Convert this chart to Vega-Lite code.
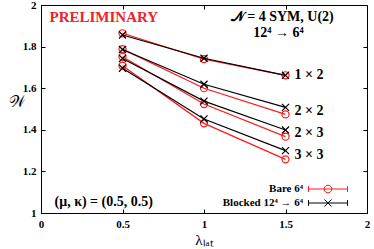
{
  "$schema": "https://vega.github.io/schema/vega-lite/v6.json",
  "width": 326,
  "height": 208,
  "autosize": "none",
  "padding": {"left": 41, "top": 5, "right": 7, "bottom": 36},
  "config": {
    "view": {"stroke": "black", "strokeWidth": 1},
    "font": "Liberation Serif",
    "axis": {"grid": false, "labelFont": "Liberation Serif", "titleFont": "Liberation Serif", "labelColor": "black", "titleColor": "black", "tickColor": "black", "domainColor": "black"},
    "legend": {"title": null, "orient": "none", "symbolSize": 1521, "symbolStrokeWidth": 1, "symbolOpacity": 1, "symbolFillColor": "transparent", "labelAlign": "right", "labelOffset": -45, "labelFont": "Liberation Serif", "labelFontWeight": "bold", "labelFontSize": 11, "labelColor": "black", "padding": 0}
  },
  "datasets": {
    "w": [
      {"series": "Bare 6⁴", "blk": "1x2", "lam": 0.5, "W": 1.864},
      {"series": "Bare 6⁴", "blk": "1x2", "lam": 1.0, "W": 1.740},
      {"series": "Bare 6⁴", "blk": "1x2", "lam": 1.5, "W": 1.662},
      {"series": "Bare 6⁴", "blk": "2x2", "lam": 0.5, "W": 1.788},
      {"series": "Bare 6⁴", "blk": "2x2", "lam": 1.0, "W": 1.600},
      {"series": "Bare 6⁴", "blk": "2x2", "lam": 1.5, "W": 1.474},
      {"series": "Bare 6⁴", "blk": "2x3", "lam": 0.5, "W": 1.751},
      {"series": "Bare 6⁴", "blk": "2x3", "lam": 1.0, "W": 1.524},
      {"series": "Bare 6⁴", "blk": "2x3", "lam": 1.5, "W": 1.367},
      {"series": "Bare 6⁴", "blk": "3x3", "lam": 0.5, "W": 1.708},
      {"series": "Bare 6⁴", "blk": "3x3", "lam": 1.0, "W": 1.431},
      {"series": "Bare 6⁴", "blk": "3x3", "lam": 1.5, "W": 1.258},
      {"series": "Blocked 12⁴ → 6⁴", "blk": "1x2", "lam": 0.5, "W": 1.856},
      {"series": "Blocked 12⁴ → 6⁴", "blk": "1x2", "lam": 1.0, "W": 1.744},
      {"series": "Blocked 12⁴ → 6⁴", "blk": "1x2", "lam": 1.5, "W": 1.662},
      {"series": "Blocked 12⁴ → 6⁴", "blk": "2x2", "lam": 0.5, "W": 1.786},
      {"series": "Blocked 12⁴ → 6⁴", "blk": "2x2", "lam": 1.0, "W": 1.619},
      {"series": "Blocked 12⁴ → 6⁴", "blk": "2x2", "lam": 1.5, "W": 1.508},
      {"series": "Blocked 12⁴ → 6⁴", "blk": "2x3", "lam": 0.5, "W": 1.743},
      {"series": "Blocked 12⁴ → 6⁴", "blk": "2x3", "lam": 1.0, "W": 1.538},
      {"series": "Blocked 12⁴ → 6⁴", "blk": "2x3", "lam": 1.5, "W": 1.399},
      {"series": "Blocked 12⁴ → 6⁴", "blk": "3x3", "lam": 0.5, "W": 1.696},
      {"series": "Blocked 12⁴ → 6⁴", "blk": "3x3", "lam": 1.0, "W": 1.452},
      {"series": "Blocked 12⁴ → 6⁴", "blk": "3x3", "lam": 1.5, "W": 1.300}
    ],
    "prelim": [{"x": 0.052, "y": 1.942, "t": "PRELIMINARY"}],
    "header": [
      {"x": 1.48, "y": 1.942, "t": "𝒩 = 4 SYM, U(2)"},
      {"x": 1.457, "y": 1.865, "t": "12⁴ → 6⁴"}
    ],
    "param": [{"x": 0.083, "y": 1.053, "t": "(μ, κ) = (0.5, 0.5)"}],
    "curves": [
      {"x": 1.5, "y": 1.662, "t": "1 × 2"},
      {"x": 1.5, "y": 1.489, "t": "2 × 2"},
      {"x": 1.5, "y": 1.383, "t": "2 × 3"},
      {"x": 1.5, "y": 1.279, "t": "3 × 3"}
    ]
  },
  "layer": [
    {
      "data": {"name": "w"},
      "transform": [{"filter": "datum.series == 'Bare 6⁴'"}],
      "mark": {"type": "line", "color": "#ff1a1a", "strokeWidth": 1.2},
      "encoding": {
        "x": {"field": "lam", "type": "quantitative", "scale": {"domain": [0, 2], "nice": false, "zero": false},
          "axis": {"orient": "bottom", "values": [0, 0.5, 1, 1.5, 2], "format": "~g", "labelFlush": false, "labelFontSize": 11, "labelFontWeight": "bold", "tickSize": -4, "labelPadding": 9, "title": "λₗₐₜ", "titleFontSize": 15, "titleFontWeight": "normal", "titleY": 26, "titleBaseline": "middle"}},
        "y": {"field": "W", "type": "quantitative", "scale": {"domain": [1, 2], "nice": false, "zero": false},
          "axis": {"orient": "left", "values": [1, 1.2, 1.4, 1.6, 1.8, 2], "format": "~g", "labelFlush": false, "labelFontSize": 11, "labelFontWeight": "bold", "tickSize": -4, "labelPadding": 9, "title": "𝒲", "titleAngle": 0, "titleX": -24, "titleY": 96, "titleAlign": "center", "titleBaseline": "middle", "titleFontSize": 16, "titleFontWeight": "normal"}},
        "detail": {"field": "blk"}
      }
    },
    {
      "data": {"name": "w"},
      "transform": [{"filter": "datum.series == 'Bare 6⁴'"}],
      "mark": {"type": "point", "shape": "circle", "filled": false, "color": "#ff1a1a", "size": 50, "strokeWidth": 1.2, "opacity": 1},
      "encoding": {
        "x": {"field": "lam", "type": "quantitative", "axis": null},
        "y": {"field": "W", "type": "quantitative", "axis": null}
      }
    },
    {
      "data": {"name": "w"},
      "transform": [{"filter": "datum.series != 'Bare 6⁴'"}],
      "mark": {"type": "line", "color": "black", "strokeWidth": 1.2},
      "encoding": {
        "x": {"field": "lam", "type": "quantitative", "axis": null},
        "y": {"field": "W", "type": "quantitative", "axis": null},
        "detail": {"field": "blk"}
      }
    },
    {
      "data": {"name": "w"},
      "transform": [{"filter": "datum.series != 'Bare 6⁴'"}],
      "mark": {"type": "point", "shape": "M-1,-1L1,1M1,-1L-1,1", "filled": false, "color": "black", "size": 50, "strokeWidth": 1.2, "opacity": 1},
      "encoding": {
        "x": {"field": "lam", "type": "quantitative", "axis": null},
        "y": {"field": "W", "type": "quantitative", "axis": null}
      }
    },
    {
      "data": {"name": "w"},
      "mark": {"type": "point", "opacity": 0},
      "encoding": {
        "x": {"field": "lam", "type": "quantitative",
          "axis": {"orient": "top", "values": [0, 0.5, 1, 1.5, 2], "labels": false, "title": null, "tickSize": -4, "domain": false}},
        "y": {"field": "W", "type": "quantitative",
          "axis": {"orient": "right", "values": [1, 1.2, 1.4, 1.6, 1.8, 2], "labels": false, "title": null, "tickSize": -4, "domain": false}}
      }
    },
    {
      "data": {"name": "w"},
      "mark": {"type": "point", "opacity": 0, "filled": false},
      "encoding": {
        "x": {"field": "lam", "type": "quantitative", "axis": null},
        "y": {"field": "W", "type": "quantitative", "axis": null},
        "color": {"field": "series", "type": "nominal",
          "scale": {"domain": ["Bare 6⁴", "Blocked 12⁴ → 6⁴"], "range": ["#ff1a1a", "black"]},
          "legend": {"values": ["Bare 6⁴"], "legendX": 267, "legendY": 164,
            "symbolType": "M-1,0L1,0M-1,-0.15L-1,0.15M1,-0.15L1,0.15M0.2,0L0.173,0.1L0.1,0.173L0,0.2L-0.1,0.173L-0.173,0.1L-0.2,0L-0.173,-0.1L-0.1,-0.173L0,-0.2L0.1,-0.173L0.173,-0.1Z"}}
      }
    },
    {
      "data": {"name": "w"},
      "mark": {"type": "point", "opacity": 0, "filled": false},
      "encoding": {
        "x": {"field": "lam", "type": "quantitative", "axis": null},
        "y": {"field": "W", "type": "quantitative", "axis": null},
        "color": {"field": "series", "type": "nominal",
          "scale": {"domain": ["Bare 6⁴", "Blocked 12⁴ → 6⁴"], "range": ["#ff1a1a", "black"]},
          "legend": {"values": ["Blocked 12⁴ → 6⁴"], "legendX": 267, "legendY": 178,
            "symbolType": "M-1,0L1,0M-1,-0.15L-1,0.15M1,-0.15L1,0.15M-0.18,-0.18L0.18,0.18M0.18,-0.18L-0.18,0.18"}}
      }
    },
    {
      "data": {"name": "prelim"},
      "mark": {"type": "text", "align": "left", "baseline": "middle", "font": "Liberation Serif", "fontWeight": "bold", "fontSize": 15, "color": "#ee2229"},
      "encoding": {
        "x": {"field": "x", "type": "quantitative", "axis": null},
        "y": {"field": "y", "type": "quantitative", "axis": null},
        "text": {"field": "t"}
      }
    },
    {
      "data": {"name": "header"},
      "mark": {"type": "text", "align": "center", "baseline": "middle", "font": "Liberation Serif", "fontWeight": "bold", "fontSize": 14, "color": "black"},
      "encoding": {
        "x": {"field": "x", "type": "quantitative", "axis": null},
        "y": {"field": "y", "type": "quantitative", "axis": null},
        "text": {"field": "t"}
      }
    },
    {
      "data": {"name": "param"},
      "mark": {"type": "text", "align": "left", "baseline": "middle", "font": "Liberation Serif", "fontWeight": "bold", "fontSize": 14, "color": "black"},
      "encoding": {
        "x": {"field": "x", "type": "quantitative", "axis": null},
        "y": {"field": "y", "type": "quantitative", "axis": null},
        "text": {"field": "t"}
      }
    },
    {
      "data": {"name": "curves"},
      "mark": {"type": "text", "align": "left", "baseline": "middle", "dx": 9, "font": "Liberation Serif", "fontWeight": "bold", "fontSize": 14, "color": "black"},
      "encoding": {
        "x": {"field": "x", "type": "quantitative", "axis": null},
        "y": {"field": "y", "type": "quantitative", "axis": null},
        "text": {"field": "t"}
      }
    }
  ],
  "resolve": {"axis": {"x": "independent", "y": "independent"}, "scale": {"color": "independent"}}
}
